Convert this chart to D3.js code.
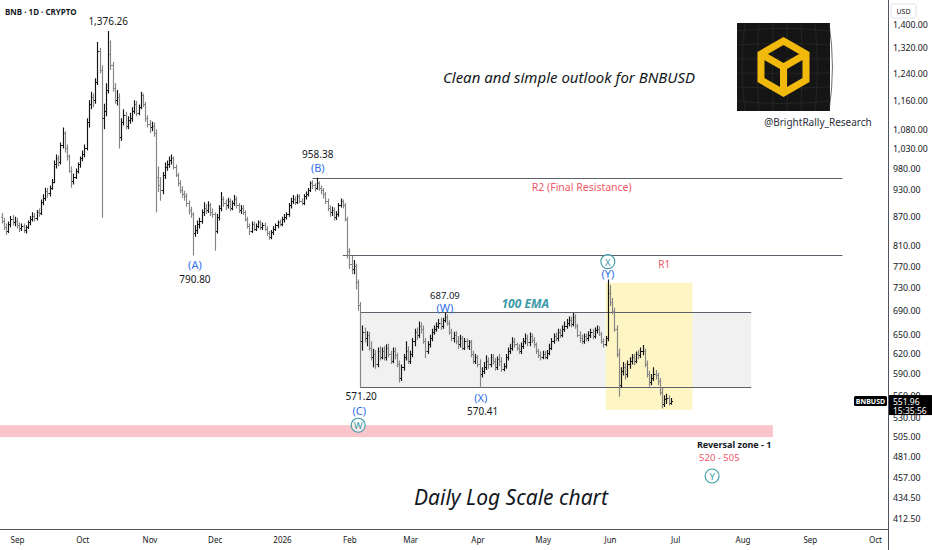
<!DOCTYPE html>
<html>
<head>
<meta charset="utf-8">
<script src="https://cdn.jsdelivr.net/npm/d3@7"></script>
<style>
  body { margin: 0; background: #fff; }
  svg { display: block; font-family: "Noto Sans", "Open Sans", sans-serif; }
</style>
</head>
<body>
<div id="chart"></div>
<script>
'use strict';

// daily bars, first bar on 25 Aug 2025
const firstDay = new Date(2025, 7, 25);

const barOpen = [
  870,862,848,840,855,866,858,862,852,846,
  850,842,848,858,866,872,868,880,878,902,
  912,928,922,935,948,990,1005,995,1040,1070,
  1030,1010,975,950,960,975,990,1005,1015,1030,
  1100,1150,1170,1160,1215,1310,1250,1110,1130,1190,
  1300,1265,1195,1160,1170,1060,1100,1120,1090,1105,
  1110,1130,1150,1125,1140,1175,1150,1110,1095,1085,
  1090,1070,960,940,930,965,985,990,1000,1005,
  985,965,945,930,920,915,900,885,875,835,
  842,855,862,880,890,885,895,880,875,840,
  870,890,910,900,895,905,890,900,910,895,
  885,890,880,865,850,840,855,845,850,858,
  848,852,845,835,828,838,845,852,858,855,
  865,870,875,895,905,910,902,915,905,900,
  915,920,930,945,940,935,945,935,930,920,
  905,890,880,885,870,876,895,905,895,865,
  800,775,765,770,740,700,640,655,645,650,
  630,615,620,605,625,615,625,615,630,620,
  610,625,618,605,585,600,615,625,610,620,
  640,655,650,665,660,640,625,635,645,655,
  660,665,670,665,675,680,670,655,645,650,
  640,635,645,630,640,632,638,620,610,615,
  605,590,595,600,610,605,615,610,600,612,
  610,598,602,615,625,630,640,635,630,625,
  632,640,645,638,648,642,635,625,618,615,
  620,616,622,630,640,648,645,655,650,660,
  665,670,675,668,680,665,650,645,640,648,
  645,650,655,648,658,660,652,640,635,645,
  720,705,690,660,620,575,595,600,590,605,
  610,615,610,620,618,625,625,605,590,578,
  585,590,588,580,565,548,555,556,549
];

const barHigh = [
  878,868,856,860,872,874,870,868,858,856,
  856,852,862,872,880,878,885,888,908,920,
  935,934,940,955,1000,1015,1012,1045,1085,1075,
  1040,1015,985,968,980,995,1010,1025,1040,1110,
  1160,1185,1180,1225,1340,1320,1265,1150,1210,1376.26,
  1345,1275,1210,1190,1180,1110,1135,1128,1115,1125,
  1140,1160,1158,1148,1185,1180,1155,1118,1105,1100,
  1098,1080,985,960,972,995,1000,1010,1015,1010,
  990,970,952,938,928,922,906,892,880,852,
  862,868,886,902,898,904,900,888,880,876,
  895,925,915,908,912,910,906,918,915,900,
  896,895,884,870,856,860,860,856,862,862,
  858,858,850,840,842,850,856,862,864,870,
  876,880,900,912,918,915,920,920,910,920,
  926,934,950,952,945,958.38,950,940,934,925,
  910,895,892,890,882,900,910,908,900,870,
  805,790,782,775,745,705,665,662,656,655,
  640,628,626,630,632,630,632,635,636,625,
  630,630,622,610,604,620,640,632,625,645,
  660,662,672,670,665,645,640,650,660,665,
  670,676,678,678,687.09,684,674,660,655,656,
  648,650,648,645,644,642,642,625,620,618,
  612,600,608,618,615,620,620,614,616,620,
  615,606,620,630,636,646,645,638,635,638,
  645,652,650,654,652,646,638,628,624,625,
  625,626,636,645,652,654,660,660,665,672,
  676,680,680,686,684,668,656,650,652,652,
  656,660,660,662,665,664,655,644,648,745,
  735,712,695,665,628,600,608,606,610,615,
  620,620,624,626,630,634,628,610,595,590,
  600,596,592,584,570,560,562,560,556
];

const barLow = [
  856,842,832,836,848,852,850,845,838,840,
  836,835,844,852,860,860,862,870,874,895,
  905,912,915,930,945,980,985,990,1030,1020,
  1000,970,935,942,955,968,982,998,1008,1025,
  1085,1135,1140,1150,1205,1240,868,1080,1115,1180,
  1250,1185,1150,1145,1030,1050,1090,1080,1080,1095,
  1100,1122,1115,1118,1135,1140,1100,1085,1070,1075,
  1060,880,925,905,920,955,975,982,990,978,
  960,938,922,912,905,892,875,868,790.8,828,
  834,845,855,872,876,878,872,868,800,835,
  862,882,892,885,888,882,884,894,888,878,
  876,874,860,845,832,836,840,840,846,842,
  842,840,830,822,823,832,840,846,850,850,
  858,864,870,888,898,896,898,900,895,896,
  908,915,925,932,926,930,928,920,910,898,
  882,870,872,862,863,870,890,888,860,785,
  765,755,755,727,690,571.2,625,638,632,625,
  610,600,598,600,610,612,610,610,615,605,
  606,612,600,578,580,595,610,605,605,615,
  632,642,645,652,636,614,620,630,640,650,
  655,660,658,660,670,665,650,640,638,635,
  628,630,626,626,628,626,615,605,605,600,
  570.41,585,590,596,598,600,604,595,596,602,
  593,594,598,610,620,625,630,625,620,620,
  628,635,632,632,637,630,620,614,610,612,
  612,612,618,626,636,640,640,645,646,655,
  660,664,662,664,660,646,638,635,636,640,
  640,645,643,644,652,648,636,630,632,640,
  698,684,655,615,558,570,588,582,585,598,
  604,603,606,612,614,618,600,585,572,574,
  580,582,574,560,542,544,548,546,547
];

const barClose = [
  862,848,840,855,866,858,862,852,846,850,
  842,848,858,866,872,868,880,878,902,912,
  928,922,935,948,990,1005,995,1040,1070,1030,
  1010,975,950,960,975,990,1005,1015,1030,1100,
  1150,1170,1160,1215,1310,1250,1110,1130,1190,1300,
  1265,1195,1160,1170,1060,1100,1120,1090,1105,1110,
  1130,1150,1125,1140,1175,1150,1110,1095,1085,1090,
  1070,960,940,930,965,985,990,1000,1005,985,
  965,945,930,920,915,900,885,875,835,842,
  855,862,880,890,885,895,880,875,840,870,
  890,910,900,895,905,890,900,910,895,885,
  890,880,865,850,840,855,845,850,858,848,
  852,845,835,828,838,845,852,858,855,865,
  870,875,895,905,910,902,915,905,900,915,
  920,930,945,940,935,945,935,930,920,905,
  890,880,885,870,876,895,905,895,865,800,
  775,765,770,740,700,640,655,645,650,630,
  615,620,605,625,615,625,615,630,620,610,
  625,618,605,585,600,615,625,610,620,640,
  655,650,665,660,640,625,635,645,655,660,
  665,670,665,675,680,670,655,645,650,640,
  635,645,630,640,632,638,620,610,615,605,
  590,595,600,610,605,615,610,600,612,610,
  598,602,615,625,630,640,635,630,625,632,
  640,645,638,648,642,635,625,618,615,620,
  616,622,630,640,648,645,655,650,660,665,
  670,675,668,680,665,650,645,640,648,645,
  650,655,648,658,660,652,640,635,645,720,
  705,690,660,620,575,595,600,590,605,610,
  615,610,620,618,625,625,605,590,578,585,
  590,588,580,565,548,555,556,549,551.96
];

const priceTicks = [1400, 1320, 1240, 1160, 1080, 1030, 980, 930, 870, 810, 770, 730,
  690, 650, 620, 590, 560, 530, 505, 481, 457, 434.5, 412.5];
const monthTicks = d3.timeMonth.range(new Date(2025, 8, 1), new Date(2026, 9, 2));

const lastPrice = 551.96;
const r2Level = 958.38, r1Level = 790.80;
const rangeTop = 687.09, rangeBottom = 571.20;
const reversalZone = [520, 505];
const yellowZone = [739, 540];

const W = 932, H = 550;
const plotRight = 888, plotBottom = 529;
const blue = "#2f6fe8", teal = "#3b9aa6", pink = "#f0596a", ink = "#131722";

const svg = d3.select("#chart").append("svg")
  .attr("width", W)
  .attr("height", H);

const x = d3.scaleTime()
  .domain([new Date(2025, 8, 1), new Date(2026, 9, 1)])
  .range([17, 875]);

const y = d3.scaleLog()
  .domain([412.5, 1320])
  .range([519, 48]);

const day = (yy, mm, dd) => new Date(yy, mm - 1, dd);
const px = v => Math.round(v) + 0.5;

svg.append("clipPath").attr("id", "plot")
  .append("rect").attr("width", plotRight).attr("height", plotBottom);

const plot = svg.append("g").attr("clip-path", "url(#plot)");

// zones
plot.append("rect")
  .attr("x", 0).attr("y", y(reversalZone[0]))
  .attr("width", x(day(2026, 8, 15)))
  .attr("height", y(reversalZone[1]) - y(reversalZone[0]))
  .attr("fill", "#f9c5ca");

plot.append("rect")
  .attr("x", x(day(2026, 2, 6))).attr("y", y(rangeTop))
  .attr("width", x(day(2026, 8, 5)) - x(day(2026, 2, 6)))
  .attr("height", y(rangeBottom) - y(rangeTop))
  .attr("fill", "#f1f1f1");

plot.append("rect")
  .attr("x", x(day(2026, 5, 30))).attr("y", y(yellowZone[0]))
  .attr("width", x(day(2026, 7, 9)) - x(day(2026, 5, 30)))
  .attr("height", y(yellowZone[1]) - y(yellowZone[0]))
  .attr("fill", "#fdf5c4");

// horizontal levels
const levelLines = [
  [day(2026, 1, 15), day(2026, 9, 16), r2Level],
  [day(2026, 1, 29), day(2026, 9, 16), r1Level],
  [day(2026, 2, 6), day(2026, 8, 5), rangeTop],
  [day(2026, 2, 6), day(2026, 8, 5), rangeBottom]
];
plot.selectAll(".level")
  .data(levelLines)
  .enter().append("line")
    .attr("x1", d => x(d[0]))
    .attr("x2", d => x(d[1]))
    .attr("y1", d => px(y(d[2])))
    .attr("y2", d => px(y(d[2])))
    .attr("stroke", "#5d606b")
    .attr("stroke-width", 1);

// ohlc bars
const bars = barClose.map((c, i) => ({
  date: d3.timeDay.offset(firstDay, i),
  o: barOpen[i], h: barHigh[i], l: barLow[i], c: c
}));

plot.selectAll(".bar")
  .data(bars)
  .enter().append("path")
    .attr("d", d => {
      let bx = px(x(d.date));
      return "M" + bx + "," + y(d.h) + "V" + y(d.l) +
        "M" + (bx - 1.5) + "," + px(y(d.o)) + "H" + bx +
        "M" + bx + "," + px(y(d.c)) + "H" + (bx + 1.5);
    })
    .attr("fill", "none")
    .attr("stroke", d => d.c >= d.o ? "#151515" : "#858585")
    .attr("stroke-width", 1.15);

// axes
svg.append("line")
  .attr("x1", 0).attr("x2", plotRight)
  .attr("y1", plotBottom + 0.5).attr("y2", plotBottom + 0.5)
  .attr("stroke", "#50535e");
svg.append("line")
  .attr("x1", plotRight + 0.5).attr("x2", plotRight + 0.5)
  .attr("y1", 0).attr("y2", H)
  .attr("stroke", "#50535e");

const yAxis = d3.axisRight(y)
  .tickValues(priceTicks)
  .tickFormat(d3.format(",.2f"))
  .tickSize(0)
  .tickPadding(5);

svg.append("g")
  .attr("transform", "translate(" + plotRight + ",0)")
  .call(yAxis)
  .call(g => g.select(".domain").remove())
  .selectAll("text")
    .attr("font-size", 8.8)
    .attr("font-family", "Noto Sans, sans-serif")
    .attr("fill", ink);

const xAxis = d3.axisBottom(x)
  .tickValues(monthTicks)
  .tickFormat(d => d.getMonth() === 0 ? d.getFullYear() : d3.timeFormat("%b")(d))
  .tickSize(0)
  .tickPadding(8);

svg.append("g")
  .attr("transform", "translate(0," + plotBottom + ")")
  .call(xAxis)
  .call(g => g.select(".domain").remove())
  .selectAll("text")
    .attr("font-size", 8)
    .attr("font-family", "Noto Sans, sans-serif")
    .attr("fill", ink);

// text helper
function label(t, px0, py0, opts) {
  opts = opts || {};
  return svg.append("text")
    .attr("x", px0).attr("y", py0)
    .attr("text-anchor", opts.anchor || "middle")
    .attr("dominant-baseline", "central")
    .attr("font-size", opts.size || 10)
    .attr("font-weight", opts.weight || "normal")
    .attr("font-style", opts.style || "normal")
    .attr("fill", opts.color || ink)
    .text(t);
}

function circleLabel(t, cx, cy) {
  svg.append("circle")
    .attr("cx", cx).attr("cy", cy).attr("r", 7)
    .attr("fill", "#fff").attr("fill-opacity", 0.6)
    .attr("stroke", teal).attr("stroke-width", 1.1);
  label(t, cx, cy + 0.5, {size: 9.5, color: teal});
}

// price labels and wave counts
label("BNB · 1D · CRYPTO", 5, 11, {anchor: "start", size: 8, weight: "bold"});

label("1,376.26", x(day(2025, 10, 13)), y(1376.26) - 10);
label("958.38", x(day(2026, 1, 17)) + 1, y(r2Level) - 24);
label("(B)", x(day(2026, 1, 17)) + 1, y(r2Level) - 10, {size: 11, color: blue});
label("(A)", x(day(2025, 11, 21)) + 2, y(r1Level) + 9, {size: 11, color: blue});
label("790.80", x(day(2025, 11, 21)) + 2, y(r1Level) + 24);
label("571.20", x(day(2026, 2, 6)) + 1, y(rangeBottom) + 9);
label("(C)", x(day(2026, 2, 6)) - 1, y(rangeBottom) + 23, {size: 11, color: blue});
circleLabel("W", x(day(2026, 2, 6)) - 2, y(rangeBottom) + 38);
label("687.09", x(day(2026, 3, 17)), y(rangeTop) - 17, {size: 9.5});
label("(W)", x(day(2026, 3, 17)), y(rangeTop) - 5, {size: 11, color: blue});
label("(X)", x(day(2026, 4, 2)) + 1, y(rangeBottom) + 10, {size: 11, color: blue});
label("570.41", x(day(2026, 4, 2)) + 3, y(rangeBottom) + 24);
circleLabel("X", x(day(2026, 5, 31)), y(745) - 18);
label("(Y)", x(day(2026, 5, 31)), y(745) - 6, {size: 11, color: blue});
circleLabel("Y", x(day(2026, 7, 18)), y(458.7));

label("R2 (Final Resistance)", x(day(2026, 5, 19)), y(r2Level) + 9, {size: 10.5, color: pink});
label("R1", x(day(2026, 6, 26)), y(r1Level) + 9, {size: 10, color: pink});
label("100 EMA", x(day(2026, 4, 23)), y(rangeTop) - 9, {size: 12, weight: "bold", style: "italic", color: teal});
label("Reversal zone - 1", x(day(2026, 7, 11)), y(reversalZone[1]) + 7, {anchor: "start", size: 9, weight: "bold"});
label("520 - 505", x(day(2026, 7, 12)), y(reversalZone[1]) + 20, {anchor: "start", size: 9.5, color: pink});

label("Clean and simple outlook for BNBUSD", 569, 77, {size: 15, style: "italic"});
label("Daily Log Scale chart", 511, 497, {size: 21, style: "italic"});
label("@BrightRally_Research", 818, 122, {size: 10, color: "#2a2e39"});

// logo
const logo = svg.append("g").attr("transform", "translate(737,23)");
logo.append("rect").attr("width", 93).attr("height", 88).attr("fill", "#151515");
d3.range(8, 93, 14).forEach(v => {
  logo.append("path")
    .attr("d", "M" + v + ",0Q" + (v + (v - 46) * 0.15) + ",44 " + v + ",88")
    .attr("stroke", "#2b2b2b").attr("fill", "none").attr("stroke-width", 0.7);
});
d3.range(8, 88, 14).forEach(v => {
  logo.append("path")
    .attr("d", "M0," + v + "Q46," + (v + (v - 44) * 0.15) + " 93," + v)
    .attr("stroke", "#2b2b2b").attr("fill", "none").attr("stroke-width", 0.7);
});
const cr = 26, cx0 = 46.5, cy0 = 44;
const hex = d3.range(6).map(k => {
  let a = -Math.PI / 2 + k * Math.PI / 3;
  return [cx0 + cr * Math.cos(a), cy0 + cr * Math.sin(a)];
});
logo.append("path")
  .attr("d", "M" + hex.map(p => p.join(",")).join("L") + "Z" +
    "M" + cx0 + "," + cy0 + "L" + hex[1].join(",") +
    "M" + cx0 + "," + cy0 + "L" + hex[5].join(",") +
    "M" + cx0 + "," + cy0 + "L" + hex[3].join(","))
  .attr("fill", "none")
  .attr("stroke", "#f0b90b")
  .attr("stroke-width", 7)
  .attr("stroke-linejoin", "miter");
logo.append("path")
  .attr("d", "M" + cx0 + "," + (cy0 - 19) + "L" + (cx0 + 9) + "," + (cy0 - 12) +
    "L" + cx0 + "," + (cy0 - 6) + "L" + (cx0 - 9) + "," + (cy0 - 12) + "Z")
  .attr("fill", "#151515");

// price scale boxes
const usd = svg.append("g");
usd.append("rect").attr("x", 891).attr("y", 4).attr("width", 25).attr("height", 14)
  .attr("rx", 2).attr("fill", "#fff").attr("stroke", "#e0e3eb");
usd.append("text").attr("x", 903.5).attr("y", 11.5).attr("text-anchor", "middle")
  .attr("dominant-baseline", "central").attr("font-size", 7).attr("fill", ink).text("USD");

const ly = y(lastPrice);
svg.append("rect").attr("x", 854).attr("y", ly - 5).attr("width", 33).attr("height", 10)
  .attr("rx", 1.5).attr("fill", "#000");
svg.append("text").attr("x", 870.5).attr("y", ly).attr("text-anchor", "middle")
  .attr("dominant-baseline", "central").attr("font-size", 7).attr("font-weight", "bold")
  .attr("fill", "#fff").text("BNBUSD");
svg.append("rect").attr("x", plotRight + 1).attr("y", ly - 6).attr("width", W - plotRight - 1).attr("height", 20)
  .attr("fill", "#000");
svg.append("text").attr("x", 893).attr("y", ly).attr("dominant-baseline", "central")
  .attr("font-size", 8.5).attr("fill", "#fff").text(d3.format(".2f")(lastPrice));
svg.append("text").attr("x", 893).attr("y", ly + 9).attr("dominant-baseline", "central")
  .attr("font-size", 8.5).attr("fill", "#fff").text("15:35:56");
</script>
</body>
</html>
